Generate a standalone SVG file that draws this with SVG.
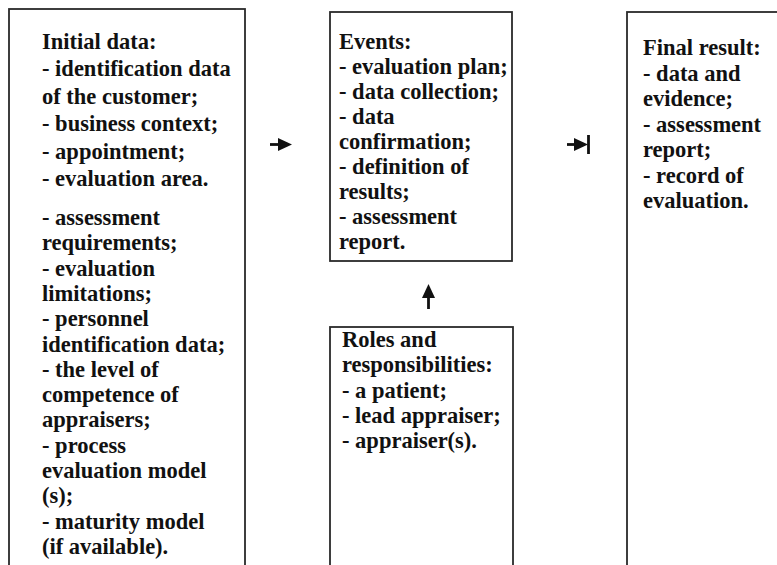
<svg xmlns="http://www.w3.org/2000/svg" width="777" height="565" viewBox="0 0 777 565">
  <style>
    .box { fill: #ffffff; stroke: #2a2a2a; stroke-width: 1.8; }
    .txt { font-family: "Liberation Serif", "Times New Roman", serif; font-weight: bold; font-size: 22.5px; fill: #111111; }
    .link { stroke: #111111; stroke-width: 2.8; fill: none; }
  </style>
  <defs>
    <marker id="head" markerUnits="userSpaceOnUse" markerWidth="14" markerHeight="13" refX="0" refY="6.5" orient="auto">
      <path d="M0,0 L14,6.5 L0,13 Z" fill="#111111"/>
    </marker>
  </defs>

  <rect width="777" height="565" fill="#ffffff"/>

  <!-- Initial data -->
  <g id="initial-data">
    <rect class="box" x="9" y="9" width="236" height="580"/>
    <text class="txt">
      <tspan x="42" y="48.5">Initial data:</tspan>
      <tspan x="42" y="76">- identification data</tspan>
      <tspan x="42" y="103.5">of the customer;</tspan>
      <tspan x="42" y="131">- business context;</tspan>
      <tspan x="42" y="158.5">- appointment;</tspan>
      <tspan x="42" y="186">- evaluation area.</tspan>
      <tspan x="42" y="225">- assessment</tspan>
      <tspan x="42" y="250.3">requirements;</tspan>
      <tspan x="42" y="275.6">- evaluation</tspan>
      <tspan x="42" y="300.9">limitations;</tspan>
      <tspan x="42" y="326.2">- personnel</tspan>
      <tspan x="42" y="351.5">identification data;</tspan>
      <tspan x="42" y="376.8">- the level of</tspan>
      <tspan x="42" y="402.1">competence of</tspan>
      <tspan x="42" y="427.4">appraisers;</tspan>
      <tspan x="42" y="452.7">- process</tspan>
      <tspan x="42" y="478">evaluation model</tspan>
      <tspan x="42" y="503.3">(s);</tspan>
      <tspan x="42" y="528.6">- maturity model</tspan>
      <tspan x="42" y="553.9">(if available).</tspan>
    </text>
  </g>

  <!-- Events -->
  <g id="events">
    <rect class="box" x="330" y="12" width="182" height="249"/>
    <text class="txt">
      <tspan x="339" y="49">Events:</tspan>
      <tspan x="339" y="74">- evaluation plan;</tspan>
      <tspan x="339" y="99">- data collection;</tspan>
      <tspan x="339" y="124">- data</tspan>
      <tspan x="339" y="149">confirmation;</tspan>
      <tspan x="339" y="174">- definition of</tspan>
      <tspan x="339" y="199">results;</tspan>
      <tspan x="339" y="224">- assessment</tspan>
      <tspan x="339" y="249">report.</tspan>
    </text>
  </g>

  <!-- Roles and responsibilities -->
  <g id="roles">
    <rect class="box" x="330" y="327" width="183" height="260"/>
    <text class="txt">
      <tspan x="342" y="347">Roles and</tspan>
      <tspan x="342" y="372">responsibilities:</tspan>
      <tspan x="342" y="397.5">- a patient;</tspan>
      <tspan x="342" y="423">- lead appraiser;</tspan>
      <tspan x="342" y="448">- appraiser(s).</tspan>
    </text>
  </g>

  <!-- Final result -->
  <g id="final-result">
    <rect class="box" x="627" y="12" width="180" height="580"/>
    <text class="txt">
      <tspan x="643" y="55">Final result:</tspan>
      <tspan x="643" y="80.5">- data and</tspan>
      <tspan x="643" y="106">evidence;</tspan>
      <tspan x="643" y="131.5">- assessment</tspan>
      <tspan x="643" y="157">report;</tspan>
      <tspan x="643" y="182.5">- record of</tspan>
      <tspan x="643" y="208">evaluation.</tspan>
    </text>
  </g>

  <!-- Connectors -->
  <g id="connectors">
    <line class="link" x1="270" y1="144.5" x2="278" y2="144.5" marker-end="url(#head)"/>
    <line class="link" x1="567" y1="144.5" x2="574" y2="144.5" marker-end="url(#head)"/>
    <line x1="588.5" y1="135" x2="588.5" y2="154" stroke="#111111" stroke-width="2.8"/>
    <line class="link" x1="428.5" y1="309" x2="428.5" y2="298" marker-end="url(#head)"/>
  </g>
</svg>
